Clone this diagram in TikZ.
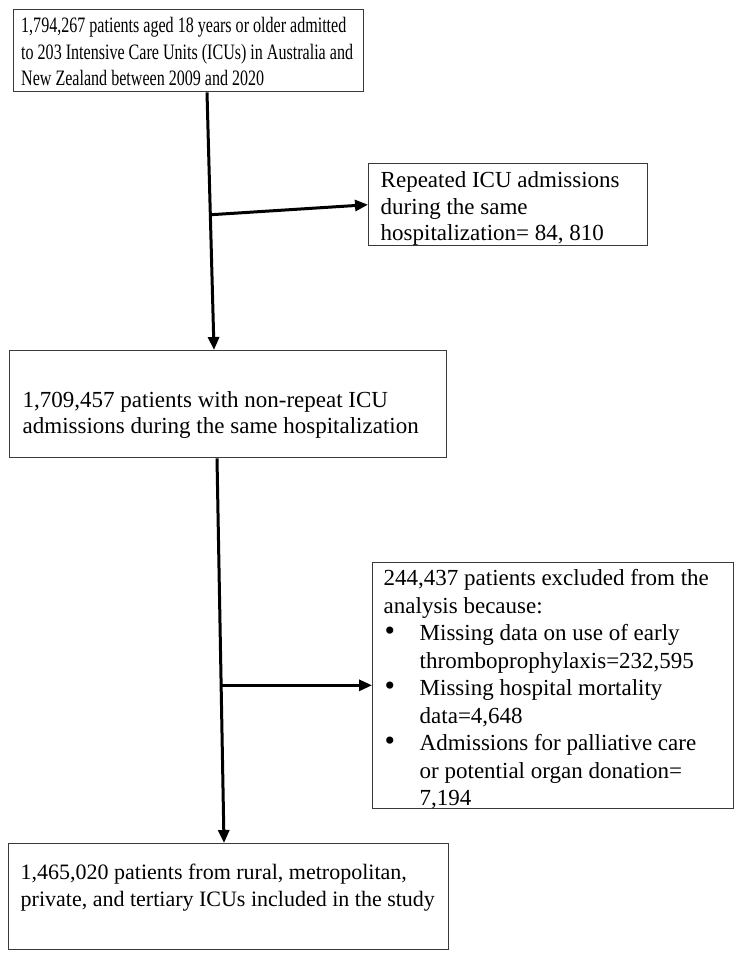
\documentclass[tikz,border=0pt]{standalone}
\usepackage{fontspec}
\setmainfont{Liberation Serif}
\newfontfamily\narrowserif{Liberation Serif}[FakeStretch=0.73]
\usetikzlibrary{arrows.meta,calc}
\definecolor{boxgray}{HTML}{3A3A3A}
% height, width, font size, baselineskip, first baseline, text
\newcommand{\bxt}[6]{\parbox[c][#1][t]{#2}{\fontsize{#3}{#4}\selectfont\raggedright\rule{0pt}{#5}#6}}
\newcommand{\bul}{\makebox[36pt][l]{\hspace*{1pt}\scalebox{1.3}{\textbullet}}}
\newcommand{\cont}{\hspace*{36pt}}
\begin{document}
\begin{tikzpicture}[x=1pt,y=-1pt,
  box/.style={draw=boxgray, line width=1.4pt, inner ysep=0pt, anchor=north west, fill=white},
  arr/.style={line width=3pt, -{Triangle[length=13pt,width=11pt]}}]
\useasboundingbox[fill=white] (0,0) rectangle (744,955);

\node[box, inner xsep=7.5pt] (b1) at (13,9)
  {\bxt{82pt}{335pt}{22pt}{26.5pt}{23pt}{\narrowserif 1,794,267 patients aged 18 years or older admitted\\
   to 203 Intensive Care Units (ICUs) in Australia and\\
   New Zealand between 2009 and 2020}};

\node[box, inner xsep=12pt] (b2) at (368,163)
  {\bxt{82pt}{255pt}{23pt}{26.5pt}{24pt}{Repeated ICU admissions\\
   during the same\\
   hospitalization= 84, 810}};

\node[box, inner xsep=13pt] (b3) at (9,350)
  {\bxt{107pt}{411pt}{23pt}{26pt}{57pt}{\mbox{1,709,457 patients with non-repeat ICU}\\
   \mbox{admissions during the same hospitalization}}};

\node[box, inner xsep=11pt] (b4) at (372,562)
  {\bxt{246pt}{339pt}{23pt}{27.5pt}{23pt}{244,437 patients excluded from the\\
   analysis because:\\
   \bul Missing data on use of early\\
   \cont thromboprophylaxis=232,595\\
   \bul Missing hospital mortality\\
   \cont data=4,648\\
   \bul Admissions for palliative care\\
   \cont or potential organ donation=\\
   \cont 7,194}};

\node[box, inner xsep=12pt] (b5) at (8,843)
  {\bxt{106pt}{416pt}{22pt}{27pt}{36pt}{\mbox{1,465,020 patients from rural, metropolitan,}\\
   \mbox{private, and tertiary ICUs included in the study}}};

\coordinate (a1s) at ($(b1.south west)+(194,0)$);
\coordinate (a1e) at ($(b3.north west)+(205,0)$);
\coordinate (j1) at ($(a1s)!0.475!(a1e)$);
\coordinate (a2s) at ($(b3.south west)+(208,0)$);
\coordinate (a2e) at ($(b5.north west)+(216,0)$);
\coordinate (j2) at ($(a2s)!0.59!(a2e)$);

\draw[arr] (a1s) -- (a1e);
\draw[arr] (j1) -- (b2.west);
\draw[arr] (a2s) -- (a2e);
\draw[arr] (j2) -- (b4.west |- j2);
\end{tikzpicture}
\end{document}
